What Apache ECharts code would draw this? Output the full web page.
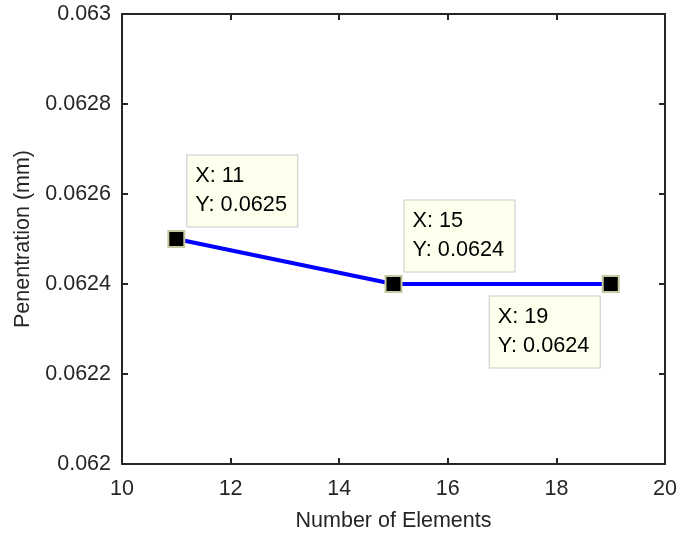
<!DOCTYPE html>
<html>
<head>
<meta charset="utf-8">
<script src="https://cdn.jsdelivr.net/npm/echarts@6/dist/echarts.min.js"></script>
<style>
  html, body { margin: 0; padding: 0; background: #fff; }
  #main { width: 680px; height: 537px; }
</style>
</head>
<body>
<div id="main"></div>
<script>
// data
var elements = [11, 15, 19];
var penetration = [0.0625, 0.0624, 0.0624];
var xTicks = [10, 12, 14, 16, 18, 20];
var yTicks = [0.062, 0.0622, 0.0624, 0.0626, 0.0628, 0.063];
// data tip offsets (box left edge / vertical centre relative to point)
var tipOffsets = [[11, -48], [11, -48], [-121, 48]];

var font = 'Liberation Sans, Arial, Helvetica, sans-serif';
var ink = '#262626';

var myChart = echarts.init(document.getElementById('main'), null, { renderer: 'canvas' });

var points = elements.map(function (x, i) {
  return {
    value: [x, penetration[i]],
    label: {
      show: true,
      position: 'inside',
      offset: tipOffsets[i],
      formatter: 'X: ' + x + '\nY: ' + penetration[i],
      color: '#000',
      fontFamily: font,
      fontSize: 21.7,
      lineHeight: 29,
      align: 'left',
      width: 94,
      backgroundColor: '#ffffee',
      borderColor: '#c8c8c8',
      borderWidth: 1,
      padding: [7, 8, 6, 8]
    }
  };
});

function axisCommon(show) {
  return {
    type: 'value',
    axisLine: { show: true, onZero: false, lineStyle: { color: ink, width: 2 } },
    axisTick: { show: true, inside: true, length: 6, lineStyle: { color: ink, width: 2 } },
    splitLine: { show: false },
    axisLabel: {
      show: show,
      color: ink,
      fontFamily: font,
      fontSize: 21.5
    }
  };
}

var xMain = axisCommon(true);
xMain.min = xTicks[0];
xMain.max = xTicks[xTicks.length - 1];
xMain.interval = 2;
xMain.position = 'bottom';
xMain.name = 'Number of Elements';
xMain.nameLocation = 'middle';
xMain.nameGap = 46;
xMain.nameTextStyle = { color: ink, fontFamily: font, fontSize: 21.5 };
xMain.axisLabel.margin = 14;

var xTop = axisCommon(false);
xTop.min = xMain.min; xTop.max = xMain.max; xTop.interval = 2;
xTop.position = 'top';

var yMain = axisCommon(true);
yMain.min = yTicks[0];
yMain.max = yTicks[yTicks.length - 1];
yMain.interval = 0.0002;
yMain.position = 'left';
yMain.name = 'Penentration (mm)';
yMain.nameLocation = 'middle';
yMain.nameGap = 86;
yMain.nameTextStyle = { color: ink, fontFamily: font, fontSize: 21.5 };
yMain.axisLabel.margin = 11;
yMain.axisLabel.formatter = function (v) {
  return parseFloat(v.toFixed(4)).toString();
};

var yRight = axisCommon(false);
yRight.min = yMain.min; yRight.max = yMain.max; yRight.interval = 0.0002;
yRight.position = 'right';

var option = {
  backgroundColor: '#fff',
  animation: false,
  grid: { left: 122, top: 14, right: 14, bottom: 70 },
  xAxis: [xMain, xTop],
  yAxis: [yMain, yRight],
  series: [{
    type: 'line',
    data: points,
    symbol: 'rect',
    symbolSize: 16,
    itemStyle: { color: '#000', borderColor: '#c8c8a0', borderWidth: 2 },
    lineStyle: { color: '#0000ff', width: 4 },
    z: 3
  }]
};

myChart.setOption(option);
</script>
</body>
</html>
